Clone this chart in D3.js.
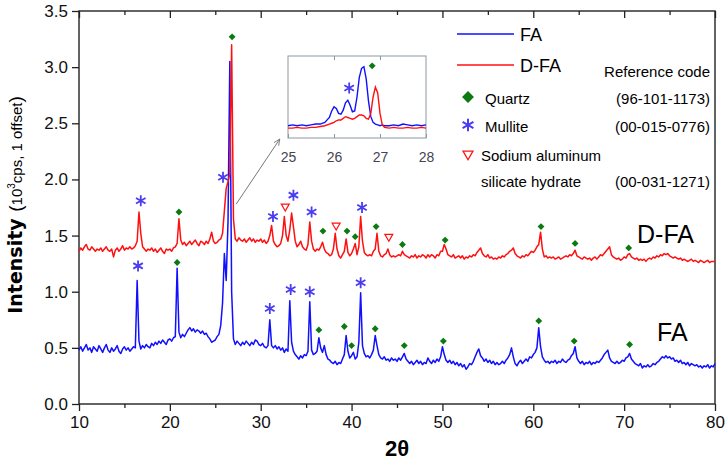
<!DOCTYPE html>
<html>
<head>
<meta charset="utf-8">
<script src="https://cdn.jsdelivr.net/npm/d3@7"></script>
<style>
  body { margin: 0; background: #fff; }
  svg { display: block; font-family: "Liberation Sans", Arial, sans-serif; }
</style>
</head>
<body>
<svg id="chart" width="728" height="462"></svg>
<script>
// 2θ sampling of the two patterns
const thetaStart = 10;
const thetaStep = 0.2;

// FA pattern (blue), intensity in 10^3 cps
const faValues = [
  0.48,0.51,0.47,0.50,0.53,0.48,0.50,0.46,0.51,0.49,
  0.47,0.52,0.49,0.46,0.50,0.53,0.48,0.46,0.50,0.47,
  0.49,0.52,0.47,0.45,0.49,0.51,0.48,0.50,0.47,0.49,
  0.51,0.50,1.10,0.56,0.49,0.52,0.50,0.53,0.51,0.50,
  0.54,0.52,0.55,0.53,0.56,0.54,0.57,0.55,0.53,0.57,
  0.58,0.56,0.59,0.60,1.21,0.64,0.59,0.62,0.60,0.63,
  0.66,0.68,0.65,0.67,0.64,0.66,0.65,0.63,0.65,0.62,
  0.63,0.60,0.58,0.55,0.56,0.57,0.60,0.62,0.70,0.90,
  1.34,1.10,1.62,3.05,1.00,0.58,0.53,0.56,0.54,0.52,
  0.55,0.53,0.56,0.54,0.52,0.55,0.53,0.57,0.56,0.53,
  0.52,0.54,0.51,0.50,0.52,0.75,0.52,0.50,0.52,0.49,
  0.51,0.48,0.50,0.46,0.49,0.47,0.92,0.55,0.47,0.44,
  0.42,0.40,0.43,0.41,0.44,0.43,0.47,0.91,0.48,0.44,
  0.45,0.47,0.59,0.50,0.46,0.52,0.44,0.40,0.39,0.37,
  0.36,0.38,0.35,0.37,0.36,0.40,0.44,0.61,0.47,0.41,
  0.43,0.46,0.40,0.42,0.55,0.99,0.52,0.45,0.42,0.43,
  0.41,0.44,0.48,0.61,0.52,0.44,0.41,0.40,0.42,0.39,
  0.40,0.38,0.41,0.39,0.40,0.38,0.41,0.39,0.42,0.45,
  0.40,0.38,0.36,0.38,0.35,0.37,0.39,0.36,0.38,0.35,
  0.37,0.36,0.41,0.38,0.36,0.39,0.37,0.40,0.38,0.42,
  0.51,0.44,0.39,0.37,0.39,0.36,0.38,0.35,0.37,0.34,
  0.36,0.33,0.35,0.31,0.33,0.36,0.35,0.38,0.42,0.46,
  0.49,0.43,0.41,0.38,0.40,0.37,0.39,0.36,0.38,0.35,
  0.37,0.35,0.36,0.38,0.36,0.39,0.41,0.44,0.50,0.42,
  0.36,0.34,0.37,0.39,0.36,0.38,0.40,0.38,0.42,0.41,
  0.44,0.46,0.50,0.68,0.51,0.42,0.39,0.37,0.38,0.36,
  0.38,0.37,0.39,0.36,0.38,0.37,0.40,0.38,0.37,0.39,
  0.40,0.43,0.45,0.51,0.41,0.38,0.36,0.38,0.35,0.37,
  0.36,0.38,0.35,0.37,0.36,0.38,0.37,0.39,0.41,0.44,
  0.46,0.48,0.41,0.38,0.37,0.36,0.38,0.36,0.37,0.39,
  0.38,0.41,0.42,0.45,0.40,0.38,0.36,0.35,0.34,0.36,
  0.32,0.34,0.33,0.35,0.33,0.34,0.36,0.35,0.37,0.38,
  0.40,0.42,0.41,0.43,0.41,0.42,0.40,0.41,0.38,0.39,
  0.37,0.39,0.36,0.37,0.35,0.37,0.34,0.36,0.35,0.34,
  0.35,0.33,0.34,0.32,0.34,0.33,0.35,0.32,0.34,0.33,
  0.36
];

// D-FA pattern (red), 1 offset
const dfaValues = [
  1.36,1.39,1.37,1.40,1.42,1.38,1.37,1.40,1.38,1.36,
  1.38,1.37,1.39,1.36,1.38,1.40,1.37,1.36,1.38,1.31,
  1.37,1.39,1.36,1.38,1.41,1.37,1.39,1.38,1.40,1.38,
  1.39,1.41,1.45,1.71,1.52,1.40,1.38,1.36,1.38,1.37,
  1.39,1.36,1.38,1.35,1.37,1.39,1.36,1.34,1.38,1.37,
  1.38,1.36,1.39,1.40,1.43,1.65,1.46,1.42,1.44,1.41,
  1.43,1.45,1.42,1.44,1.46,1.43,1.41,1.45,1.44,1.42,
  1.45,1.43,1.47,1.53,1.45,1.43,1.44,1.46,1.47,1.52,
  1.72,1.92,1.98,2.05,3.20,1.65,1.47,1.45,1.48,1.46,
  1.45,1.47,1.44,1.46,1.48,1.45,1.47,1.44,1.46,1.45,
  1.47,1.44,1.46,1.43,1.45,1.50,1.59,1.45,1.42,1.40,
  1.41,1.43,1.50,1.67,1.50,1.45,1.55,1.70,1.58,1.45,
  1.40,1.42,1.45,1.40,1.38,1.37,1.42,1.62,1.45,1.38,
  1.36,1.38,1.37,1.40,1.44,1.38,1.35,1.34,1.32,1.33,
  1.38,1.52,1.38,1.32,1.30,1.33,1.36,1.47,1.35,1.32,
  1.34,1.38,1.43,1.33,1.40,1.67,1.45,1.35,1.33,1.32,
  1.33,1.32,1.36,1.38,1.52,1.36,1.32,1.31,1.33,1.34,
  1.38,1.33,1.31,1.32,1.31,1.32,1.33,1.32,1.36,1.33,
  1.32,1.31,1.30,1.32,1.31,1.33,1.30,1.32,1.31,1.33,
  1.32,1.30,1.33,1.31,1.33,1.32,1.30,1.33,1.32,1.36,
  1.36,1.42,1.38,1.33,1.32,1.31,1.33,1.30,1.31,1.32,
  1.30,1.32,1.29,1.31,1.30,1.32,1.31,1.33,1.32,1.35,
  1.37,1.39,1.34,1.32,1.31,1.33,1.30,1.31,1.29,1.30,
  1.29,1.31,1.30,1.32,1.31,1.33,1.34,1.36,1.37,1.39,
  1.34,1.32,1.31,1.30,1.32,1.31,1.33,1.32,1.34,1.36,
  1.35,1.37,1.40,1.42,1.53,1.38,1.31,1.32,1.30,1.31,
  1.30,1.31,1.29,1.30,1.31,1.29,1.30,1.31,1.32,1.31,
  1.33,1.32,1.34,1.37,1.32,1.31,1.30,1.29,1.31,1.30,
  1.29,1.30,1.28,1.30,1.31,1.29,1.31,1.33,1.32,1.34,
  1.36,1.38,1.40,1.33,1.31,1.30,1.29,1.30,1.28,1.29,
  1.31,1.30,1.33,1.34,1.31,1.30,1.29,1.30,1.28,1.29,
  1.28,1.29,1.27,1.29,1.30,1.29,1.31,1.30,1.32,1.31,
  1.33,1.32,1.34,1.33,1.34,1.32,1.31,1.30,1.31,1.30,
  1.29,1.30,1.28,1.29,1.28,1.27,1.28,1.29,1.27,1.28,
  1.27,1.26,1.28,1.27,1.26,1.27,1.28,1.26,1.27,1.27,
  1.27
];

// phase markers [2θ, intensity]
const faMullite = [[16.5,1.23],[31.0,0.85],[33.3,1.02],[35.4,1.00],[41.0,1.08]];
const faQuartz = [[20.8,1.26],[36.4,0.66],[39.2,0.69],[40.0,0.52],[42.6,0.67],[45.8,0.52],[50.1,0.56],[60.6,0.74],[64.5,0.56],[70.6,0.53]];
const dfaMullite = [[16.8,1.81],[25.85,2.02],[31.35,1.67],[33.6,1.86],[35.6,1.71],[41.15,1.75]];
const dfaQuartz = [[26.85,3.27],[21.0,1.71],[36.85,1.54],[39.5,1.54],[40.4,1.49],[42.7,1.58],[45.6,1.42],[50.3,1.46],[60.85,1.58],[64.6,1.43],[70.5,1.39]];
const dfaSodium = [[32.7,1.76],[38.3,1.59],[44.1,1.49]];

// inset (25-28°, relative scale)
const insetTheta = [25.0,25.1,25.2,25.3,25.4,25.5,25.6,25.7,25.8,25.9,25.95,26.0,26.05,26.1,26.15,26.2,26.25,26.3,26.35,26.4,26.45,26.5,26.55,26.6,26.65,26.7,26.75,26.8,26.85,26.9,26.95,27.0,27.05,27.1,27.2,27.3,27.4,27.5,27.6,27.7,27.8,27.9,28.0];
const insetFA = [0.15,0.16,0.15,0.16,0.15,0.16,0.17,0.17,0.19,0.25,0.33,0.38,0.36,0.30,0.29,0.34,0.43,0.46,0.40,0.32,0.33,0.50,0.74,0.85,0.87,0.72,0.45,0.26,0.19,0.17,0.16,0.15,0.16,0.15,0.15,0.16,0.15,0.17,0.16,0.15,0.16,0.15,0.16];
const insetDFA = [0.12,0.12,0.13,0.12,0.12,0.13,0.13,0.14,0.15,0.17,0.18,0.19,0.21,0.22,0.22,0.24,0.26,0.25,0.24,0.23,0.24,0.26,0.28,0.28,0.27,0.24,0.23,0.30,0.50,0.62,0.55,0.30,0.16,0.13,0.12,0.13,0.12,0.12,0.13,0.12,0.12,0.13,0.12];
const insetMullite = [[26.33,0.61]];
const insetQuartz = [[26.83,0.88]];

const yTicks = [0, 0.5, 1.0, 1.5, 2.0, 2.5, 3.0, 3.5];
const xMajor = [10, 20, 30, 40, 50, 60, 70, 80];
const xMinor = [15, 25, 35, 45, 55, 65, 75];

const blue = '#1010ff', red = '#ff1010', star = '#4a3cf0', green = '#0b7a10';

const svg = d3.select('#chart');
const x = d3.scaleLinear().domain([10, 80]).range([79, 715]);
const y = d3.scaleLinear().domain([0, 3.5]).range([404, 11]);

// axes
const axisColor = '#222';
function styleAxis(g, fs) {
  g.select('.domain').remove();
  g.selectAll('line').attr('stroke', axisColor).attr('stroke-width', 1.3);
  g.selectAll('text').attr('fill', '#111').style('font-size', fs + 'px').style('font-family', '"Liberation Sans", Arial, sans-serif');
}
svg.append('g').attr('transform', 'translate(79,0)')
  .call(d3.axisLeft(y).tickValues(yTicks).tickFormat(d3.format('.1f')).tickSize(7).tickPadding(4))
  .call(g => styleAxis(g, 17));
svg.append('g').attr('transform', 'translate(0,404)')
  .call(d3.axisBottom(x).tickValues(xMajor).tickFormat(d3.format('d')).tickSize(7).tickPadding(5))
  .call(g => styleAxis(g, 17));
svg.append('g').attr('transform', 'translate(0,404)')
  .call(d3.axisBottom(x).tickValues(xMinor).tickFormat('').tickSize(4))
  .call(g => styleAxis(g, 17));
svg.append('g').attr('transform', 'translate(0,11)')
  .call(d3.axisTop(x).tickValues(xMajor).tickFormat('').tickSize(-7))
  .call(g => styleAxis(g, 17));
svg.append('g').attr('transform', 'translate(0,11)')
  .call(d3.axisTop(x).tickValues(xMinor).tickFormat('').tickSize(-4))
  .call(g => styleAxis(g, 17));
svg.append('rect').attr('x', 79).attr('y', 11).attr('width', 715 - 79).attr('height', 404 - 11)
  .attr('fill', 'none').attr('stroke', axisColor).attr('stroke-width', 1.4);

// axis titles
svg.append('text').attr('x', x(45)).attr('y', 456).attr('text-anchor', 'middle')
  .style('font-size', '22px').style('font-weight', 'bold').text('2θ');
const yl = svg.append('text').attr('transform', 'translate(22,205) rotate(-90)').attr('text-anchor', 'middle');
yl.append('tspan').style('font-size', '19px').style('font-weight', 'bold').style('font-family', '"DejaVu Sans", sans-serif').text('Intensity ');
yl.append('tspan').style('font-size', '19px').text('(');
yl.append('tspan').style('font-size', '15px').text('10');
yl.append('tspan').style('font-size', '10px').attr('dy', -7).text('3');
yl.append('tspan').style('font-size', '15px').attr('dy', 7).text('cps, 1 offset');
yl.append('tspan').style('font-size', '19px').text(')');

// patterns
const line = d3.line().x((d, i) => x(thetaStart + i * thetaStep)).y(d => y(d));
svg.append('path').datum(faValues).attr('d', line).attr('fill', 'none').attr('stroke', blue).attr('stroke-width', 1.5).attr('stroke-linejoin', 'round');
svg.append('path').datum(dfaValues).attr('d', line).attr('fill', 'none').attr('stroke', red).attr('stroke-width', 1.5).attr('stroke-linejoin', 'round');

// markers
const asterisk = d3.symbol().type(d3.symbolAsterisk).size(85);
const diamond = d3.symbol().type(d3.symbolDiamond2).size(30);
const tri = d3.symbol().type(d3.symbolTriangle2).size(45);
function drawStars(data, sx, sy) {
  svg.append('g').selectAll('path').data(data).join('path')
    .attr('d', asterisk).attr('transform', d => `translate(${sx(d[0])},${sy(d[1])})`)
    .attr('fill', 'none').attr('stroke', star).attr('stroke-width', 1.8);
}
function drawDiamonds(data, sx, sy) {
  svg.append('g').selectAll('path').data(data).join('path')
    .attr('d', diamond).attr('transform', d => `translate(${sx(d[0])},${sy(d[1])})`)
    .attr('fill', green);
}
drawStars(faMullite, x, y);
drawStars(dfaMullite, x, y);
drawDiamonds(faQuartz, x, y);
drawDiamonds(dfaQuartz, x, y);
svg.append('g').selectAll('path').data(dfaSodium).join('path')
  .attr('d', tri).attr('transform', d => `translate(${x(d[0])},${y(d[1])}) rotate(180)`)
  .attr('fill', '#fff').attr('stroke', red).attr('stroke-width', 1.2);

// series labels
svg.append('text').attr('x', 637).attr('y', 243).style('font-size', '25px').text('D-FA');
svg.append('text').attr('x', 657).attr('y', 341).style('font-size', '25px').text('FA');

// inset
const ix = d3.scaleLinear().domain([25, 28]).range([288, 426]);
const iy = d3.scaleLinear().domain([0, 1]).range([138, 56]);
const inset = svg.append('g');
inset.append('rect').attr('x', 288).attr('y', 56).attr('width', 138).attr('height', 82)
  .attr('fill', '#fff').attr('stroke', '#8a9aa4').attr('stroke-width', 1);
inset.append('g').attr('transform', 'translate(0,138)')
  .call(d3.axisBottom(ix).tickValues([25, 26, 27, 28]).tickFormat(d3.format('d')).tickSize(-4).tickPadding(14))
  .call(g => {
    g.select('.domain').remove();
    g.selectAll('line').attr('stroke', '#8a9aa4');
    g.selectAll('text').attr('fill', '#445').style('font-size', '14px');
  });
inset.append('g').attr('transform', 'translate(0,56)')
  .call(d3.axisTop(ix).tickValues([26, 27]).tickFormat('').tickSize(-4))
  .call(g => { g.select('.domain').remove(); g.selectAll('line').attr('stroke', '#8a9aa4'); });
const iline = d3.line().x((d, i) => ix(insetTheta[i])).y(d => iy(d));
inset.append('path').datum(insetFA).attr('d', iline).attr('fill', 'none').attr('stroke', blue).attr('stroke-width', 1.4);
inset.append('path').datum(insetDFA).attr('d', iline).attr('fill', 'none').attr('stroke', red).attr('stroke-width', 1.4);
drawStars(insetMullite, ix, iy);
drawDiamonds(insetQuartz, ix, iy);

// arrow to inset
svg.append('defs').append('marker').attr('id', 'ah').attr('viewBox', '0 0 10 10')
  .attr('refX', 9).attr('refY', 5).attr('markerWidth', 7).attr('markerHeight', 7).attr('orient', 'auto')
  .append('path').attr('d', 'M0,1 L9,5 L0,9').attr('fill', 'none').attr('stroke', '#777').attr('stroke-width', 1.2);
svg.append('line').attr('x1', x(27.3)).attr('y1', y(1.78)).attr('x2', x(32.1)).attr('y2', y(2.36))
  .attr('stroke', '#777').attr('stroke-width', 1).attr('marker-end', 'url(#ah)');

// legend
const lg = svg.append('g');
lg.append('line').attr('x1', 457).attr('x2', 514).attr('y1', 34).attr('y2', 34).attr('stroke', blue).attr('stroke-width', 1.3);
lg.append('text').attr('x', 520).attr('y', 41).style('font-size', '18px').text('FA');
lg.append('line').attr('x1', 457).attr('x2', 514).attr('y1', 65).attr('y2', 65).attr('stroke', red).attr('stroke-width', 1.3);
lg.append('text').attr('x', 520).attr('y', 72).style('font-size', '18px').text('D-FA');
lg.append('text').attr('x', 710).attr('y', 77).attr('text-anchor', 'end').style('font-size', '15px').text('Reference code');
lg.append('path').attr('d', d3.symbol().type(d3.symbolDiamond2).size(90)).attr('transform', 'translate(468,97)').attr('fill', green);
lg.append('text').attr('x', 485).attr('y', 104).style('font-size', '15px').text('Quartz');
lg.append('text').attr('x', 710).attr('y', 104).attr('text-anchor', 'end').style('font-size', '15px').text('(96-101-1173)');
lg.append('path').attr('d', d3.symbol().type(d3.symbolAsterisk).size(110)).attr('transform', 'translate(468,125)')
  .attr('fill', 'none').attr('stroke', star).attr('stroke-width', 2);
lg.append('text').attr('x', 485).attr('y', 132).style('font-size', '15px').text('Mullite');
lg.append('text').attr('x', 710).attr('y', 132).attr('text-anchor', 'end').style('font-size', '15px').text('(00-015-0776)');
lg.append('path').attr('d', d3.symbol().type(d3.symbolTriangle2).size(70)).attr('transform', 'translate(468,154) rotate(180)')
  .attr('fill', '#fff').attr('stroke', red).attr('stroke-width', 1.3);
lg.append('text').attr('x', 481).attr('y', 161).style('font-size', '15px').text('Sodium aluminum');
lg.append('text').attr('x', 481).attr('y', 187).style('font-size', '15px').text('silicate hydrate');
lg.append('text').attr('x', 710).attr('y', 187).attr('text-anchor', 'end').style('font-size', '15px').text('(00-031-1271)');
</script>
</body>
</html>
